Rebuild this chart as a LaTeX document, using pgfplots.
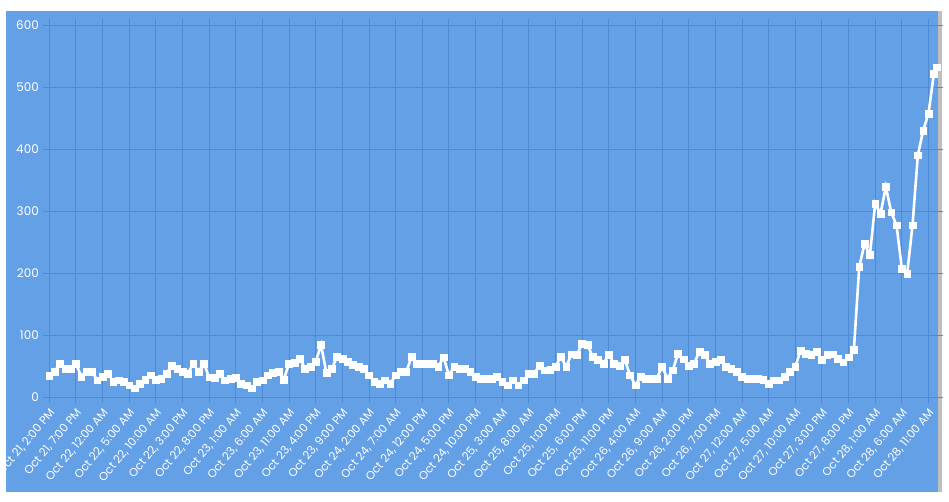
\documentclass[border=0pt]{standalone}
\usepackage{pgfplots}
\pgfplotsset{compat=1.18}
\usepackage{fontspec}
\setmainfont{Poppins}
\definecolor{bg}{RGB}{100,160,230}
\definecolor{gridc}{RGB}{80,138,208}
\begin{document}
\begin{tikzpicture}[x=1bp,y=1bp]
\fill[white] (0,0) rectangle (949,502);
\fill[bg] (6,10) rectangle (938,491);
\fill[black!25] (938,10) rectangle (942,491);
\begin{axis}[at={(49.3bp,105bp)}, anchor=south west, scale only axis,
  width=887.7bp, height=372bp,
  xmin=0, xmax=166.6, ymin=0, ymax=600,
  axis line style={draw=none},
  xtick={0,5,...,165},
  xticklabels={{Oct 21, 2:00 PM},{Oct 21, 7:00 PM},{Oct 22, 12:00 AM},{Oct 22, 5:00 AM},{Oct 22, 10:00 AM},{Oct 22, 3:00 PM},{Oct 22, 8:00 PM},{Oct 23, 1:00 AM},{Oct 23, 6:00 AM},{Oct 23, 11:00 AM},{Oct 23, 4:00 PM},{Oct 23, 9:00 PM},{Oct 24, 2:00 AM},{Oct 24, 7:00 AM},{Oct 24, 12:00 PM},{Oct 24, 5:00 PM},{Oct 24, 10:00 PM},{Oct 25, 3:00 AM},{Oct 25, 8:00 AM},{Oct 25, 1:00 PM},{Oct 25, 6:00 PM},{Oct 25, 11:00 PM},{Oct 26, 4:00 AM},{Oct 26, 9:00 AM},{Oct 26, 2:00 PM},{Oct 26, 7:00 PM},{Oct 27, 12:00 AM},{Oct 27, 5:00 AM},{Oct 27, 10:00 AM},{Oct 27, 3:00 PM},{Oct 27, 8:00 PM},{Oct 28, 1:00 AM},{Oct 28, 6:00 AM},{Oct 28, 11:00 AM}},
  ytick={0,100,...,600},
  grid=major,
  major grid style={gridc, line width=0.9bp},
  tick style={gridc, line width=0.9bp},
  tick align=outside,
  major tick length=6bp,
  /pgf/number format/assume math mode=true,
  yticklabel style={font=\fontsize{12}{13}\selectfont, text=white, xshift=-1bp},
  xticklabel style={font=\fontsize{11.5}{12}\selectfont, text=white, yshift=-7bp, xshift=4bp, rotate=50, anchor=east, inner sep=1bp},
  clip=false,
]
\addplot[white, line width=2.6bp, mark=square*, mark size=3.4bp, mark options={line width=0.5bp}] coordinates {
(0,34) (1,41) (2,54) (3,46) (4,46) (5,54) (6,33) (7,41) (8,41) (9,27)
(10,33) (11,38) (12,25) (13,27) (14,25) (15,19) (16,14) (17,22) (18,28) (19,35)
(20,28) (21,29) (22,38) (23,51) (24,46) (25,41) (26,38) (27,54) (28,41) (29,54)
(30,32) (31,31) (32,37) (33,27) (34,29) (35,31) (36,22) (37,19) (38,14) (39,25)
(40,27) (41,35) (42,39) (43,41) (44,28) (45,54) (46,55) (47,62) (48,46) (49,49)
(50,57) (51,84) (52,39) (53,45) (54,65) (55,62) (56,57) (57,52) (58,49) (59,45)
(60,35) (61,25) (62,22) (63,27) (64,22) (65,35) (66,41) (67,41) (68,65) (69,54)
(70,54) (71,54) (72,54) (73,49) (74,64) (75,35) (76,49) (77,46) (78,45) (79,41)
(80,33) (81,30) (82,30) (83,30) (84,33) (85,25) (86,19) (87,27) (88,19) (89,27)
(90,37) (91,38) (92,51) (93,43) (94,44) (95,49) (96,65) (97,49) (98,69) (99,68)
(100,86) (101,84) (102,65) (103,60) (104,54) (105,68) (106,54) (107,51) (108,60) (109,35)
(110,19) (111,33) (112,30) (113,30) (114,30) (115,49) (116,30) (117,43) (118,70) (119,61)
(120,51) (121,54) (122,73) (123,68) (124,54) (125,57) (126,60) (127,49) (128,46) (129,41)
(130,33) (131,30) (132,30) (133,30) (134,28) (135,22) (136,27) (137,27) (138,33) (139,41)
(140,49) (141,75) (142,70) (143,68) (144,73) (145,60) (146,68) (147,69) (148,62) (149,56)
(150,64) (151,76) (152,210) (153,247) (154,229) (155,312) (156,296) (157,339) (158,298) (159,277)
(160,207) (161,199) (162,277) (163,390) (164,430) (165,457) (166,521) (166.6,532)
};
\end{axis}
\fill[white] (0,0) rectangle (6,502);
\fill[white] (0,0) rectangle (949,10);
\pgfresetboundingbox
\path[use as bounding box] (0,0) rectangle (949,502);
\end{tikzpicture}
\end{document}
